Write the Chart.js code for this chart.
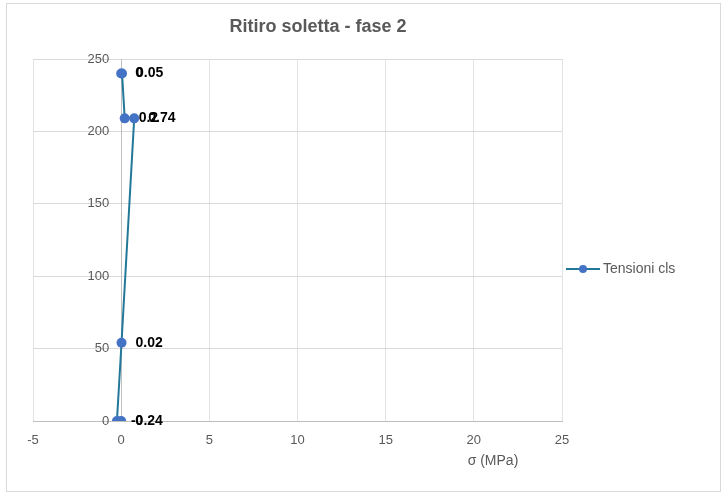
<!DOCTYPE html>
<html>
<head>
<meta charset="utf-8">
<script src="https://cdn.jsdelivr.net/npm/chart.js@4.4.1/dist/chart.umd.min.js"></script>
<style>
  body { margin: 0; background: #fff; }
</style>
</head>
<body>
<canvas id="myChart" width="727" height="494"></canvas>
<script>
// sigma (MPa) along the section height
const sigma = [0, 0.05, 0.2, 0.74, 0.02, -0.24, 0];
const quota = [240, 240, 209, 209, 54, 0, 0];
const xRange = [-5, 25];
const yRange = [0, 250];
const seriesName = 'Tensioni cls';
const chartTitle = 'Ritiro soletta - fase 2';
const xTitle = 'σ (MPa)';

const points = sigma.map(function(s, i) {
    return { x: s, y: quota[i] };
});

const grey = '#595959';
const lineColor = '#23789a';
const dotColor = '#4472c4';
const fontFam = '"Liberation Sans", Arial, sans-serif';

const decor = {
    id: 'decor',
    beforeDraw(chart) {
        const ctx = chart.ctx;
        ctx.save();
        ctx.fillStyle = '#fff';
        ctx.fillRect(0, 0, chart.width, chart.height);
        ctx.strokeStyle = '#d9d9d9';
        ctx.lineWidth = 1;
        ctx.strokeRect(6.5, 3.5, 714, 488);
        ctx.restore();
    },
    afterDatasetsDraw(chart) {
        const ctx = chart.ctx;
        const meta = chart.getDatasetMeta(0);
        ctx.save();
        // y tick labels, left of the x = 0 axis
        const ys = chart.scales.y;
        const x0 = chart.scales.x.getPixelForValue(0);
        ctx.font = '13px ' + fontFam;
        ctx.fillStyle = grey;
        ctx.textAlign = 'right';
        ctx.textBaseline = 'middle';
        ys.ticks.forEach(function(t) {
            ctx.fillText(String(t.value), x0 - 12, ys.getPixelForValue(t.value));
        });
        // data labels
        ctx.font = 'bold 14px ' + fontFam;
        ctx.fillStyle = '#000';
        ctx.textAlign = 'left';
        meta.data.forEach(function(pt, i) {
            ctx.fillText(String(sigma[i]), pt.x + 14, pt.y);
        });
        ctx.restore();
    },
    afterDraw(chart) {
        const ctx = chart.ctx;
        ctx.save();
        ctx.fillStyle = grey;
        ctx.textAlign = 'center';
        ctx.textBaseline = 'middle';
        ctx.font = 'bold 18px ' + fontFam;
        ctx.fillText(chartTitle, 318, 27);
        ctx.font = '14px ' + fontFam;
        ctx.fillText(xTitle, 493, 461);
        // legend
        const ly = 269;
        ctx.strokeStyle = lineColor;
        ctx.lineWidth = 2;
        ctx.beginPath();
        ctx.moveTo(566, ly);
        ctx.lineTo(600, ly);
        ctx.stroke();
        ctx.fillStyle = dotColor;
        ctx.beginPath();
        ctx.arc(583, ly, 4, 0, Math.PI * 2);
        ctx.fill();
        ctx.fillStyle = grey;
        ctx.textAlign = 'left';
        ctx.font = '14px ' + fontFam;
        ctx.fillText(seriesName, 603, ly);
        ctx.restore();
    }
};

const data = {
    datasets: [{
        label: seriesName,
        data: points,
        showLine: true,
        borderColor: lineColor,
        borderWidth: 2,
        pointRadius: 5,
        pointHoverRadius: 5,
        pointBackgroundColor: dotColor,
        pointBorderColor: dotColor,
        pointBorderWidth: 0
    }]
};

const config = {
    type: 'scatter',
    data,
    options: {
        responsive: false,
        animation: false,
        layout: {
            padding: { left: 33, right: 165, top: 59, bottom: 73 }
        },
        plugins: {
            legend: { display: false },
            title: { display: false },
            tooltip: { enabled: false }
        },
        scales: {
            x: {
                type: 'linear',
                min: xRange[0],
                max: xRange[1],
                position: { y: 0 },
                ticks: {
                    stepSize: 5,
                    color: grey,
                    padding: 12,
                    font: { family: fontFam, size: 13 }
                },
                grid: { color: '#e3e3e3', drawTicks: false },
                border: { color: '#bfbfbf' }
            },
            y: {
                type: 'linear',
                min: yRange[0],
                max: yRange[1],
                position: { x: 0 },
                ticks: {
                    stepSize: 50,
                    display: false
                },
                grid: { color: '#d9d9d9', drawTicks: false },
                border: { color: '#bfbfbf' }
            }
        }
    },
    plugins: [decor]
};

var myChart = new Chart(
    document.getElementById('myChart'),
    config
);
</script>
</body>
</html>
